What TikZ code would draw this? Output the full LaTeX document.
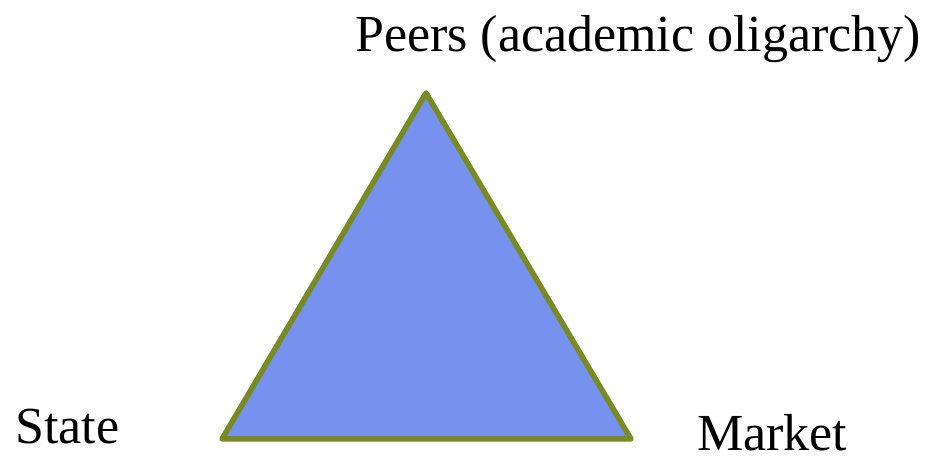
\documentclass[tikz,border=0pt]{standalone}
\usepackage{fontspec}
\setmainfont{Liberation Serif}
\begin{document}
\begin{tikzpicture}[x=1pt,y=1pt,
  lbl/.style={inner sep=0pt,anchor=base west,font=\fontsize{52}{60}\selectfont},
  tri/.style={fill=triFill,draw=triEdge,line width=5.5pt,line join=round}]
\definecolor{triFill}{HTML}{7692EE}
\definecolor{triEdge}{HTML}{778B22}
\useasboundingbox (0,0) rectangle (926,455);
\coordinate (top) at (426,362);
\coordinate (bl) at (222,16);
\coordinate (br) at (631,16);
\draw[tri] (top) -- (bl) -- (br) -- cycle;
\node[lbl] (peers) at (355,403) {Peers (academic oligarchy)};
\node[lbl] (state) at (15,12) {State};
\node[lbl] (market) at (697,5) {Market};
\end{tikzpicture}
\end{document}
